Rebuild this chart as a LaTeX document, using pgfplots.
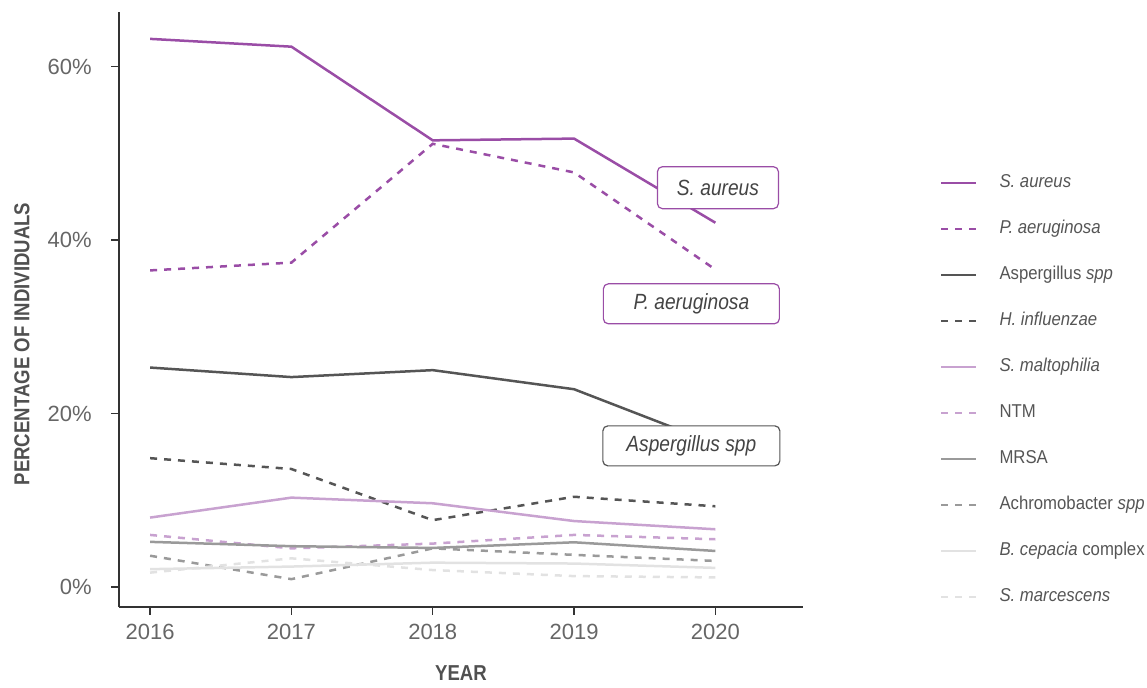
\documentclass[border=0pt]{standalone}
\usepackage{fontspec}
\setmainfont{Liberation Sans}
\newfontfamily\legfont[FakeStretch=0.9]{Liberation Sans}
\newfontfamily\labfont[FakeStretch=0.87]{Liberation Sans}
\newfontfamily\titlefont[FakeStretch=0.86]{Liberation Sans}
\usepackage{pgfplots}
\pgfplotsset{compat=1.18}
\definecolor{cPurple}{HTML}{9A4DA6}
\definecolor{cLPurple}{HTML}{C8A2D0}
\definecolor{cDark}{HTML}{555555}
\definecolor{cMid}{HTML}{9A9A9A}
\definecolor{cLight}{HTML}{E2E2E2}
\definecolor{cAxis}{HTML}{333333}
\definecolor{cTick}{HTML}{666666}
\definecolor{cText}{HTML}{444444}
\definecolor{cTitle}{HTML}{505050}
\definecolor{cLeg}{HTML}{555555}
\begin{document}
\begin{tikzpicture}
\useasboundingbox (-59.5pt,-40.5pt) rectangle (514pt,303.5pt);
\begin{axis}[
  at={(0pt,0pt)}, anchor=south west,
  scale only axis, width=342pt, height=297.5pt,
  xmin=2015.78, xmax=2020.62, ymin=-2.31, ymax=66.3,
  axis lines=left, axis line style={-, draw=cAxis, line width=0.7pt},
  xtick={2016,2017,2018,2019,2020}, ytick={0,20,40,60},
  tick align=outside, major tick length=4pt,
  tick style={draw=cAxis, line width=0.7pt},
  /pgf/number format/assume math mode=true,
  /pgf/number format/1000 sep={},
  yticklabel={\pgfmathprintnumber{\tick}\%},
  yticklabel style={font=\fontsize{11}{13}\selectfont, text=cTick, inner sep=0pt},
  xticklabel style={font=\fontsize{11}{13}\selectfont, text=cTick, inner sep=0pt},
  yticklabel shift=9.5pt,
  xticklabel shift=4.5pt,
  xlabel={YEAR},
  ylabel={PERCENTAGE OF INDIVIDUALS},
  xlabel style={at={(axis description cs:0.5,-0.1109)}, anchor=center, font=\titlefont\bfseries\fontsize{10.8}{12}\selectfont, text=cTitle},
  ylabel style={at={(axis description cs:-0.1418,0.442)}, anchor=center, font=\titlefont\bfseries\fontsize{10.8}{12}\selectfont, text=cTitle},
  legend cell align=left,
  legend image code/.code={\draw[#1] (0pt,0pt) -- (17.5pt,0pt);},
  legend style={at={(axis description cs:1.2003,0.7284)}, anchor=north west,
    draw=none, fill=none, inner sep=0pt, outer sep=0pt,
    row sep=13.5pt, column sep=11pt,
    nodes={inner sep=0pt, text height=7pt, text depth=2.5pt},
    font=\legfont\fontsize{9.3}{11}\selectfont, text=cLeg},
  every axis plot/.append style={line width=1.25pt},
  clip=false,
]
% S. aureus
\addplot[cPurple, solid] coordinates {(2016,63.2) (2017,62.3) (2018,51.5) (2019,51.7) (2020,42.0)};
\addlegendentry{\itshape S. aureus}
% P. aeruginosa
\addplot[cPurple, dash pattern=on 3.5pt off 3.5pt] coordinates {(2016,36.5) (2017,37.4) (2018,51.1) (2019,47.8) (2020,36.6)};
\addlegendentry{\itshape P. aeruginosa}
% Aspergillus spp
\addplot[cDark, solid] coordinates {(2016,25.3) (2017,24.2) (2018,25.0) (2019,22.8) (2020,16.5)};
\addlegendentry{Aspergillus \textit{spp}}
% H. influenzae
\addplot[cDark, dash pattern=on 3.5pt off 3.5pt] coordinates {(2016,14.85) (2017,13.6) (2018,7.7) (2019,10.4) (2020,9.3)};
\addlegendentry{\itshape H. influenzae}
% S. maltophilia
\addplot[cLPurple, solid] coordinates {(2016,8.0) (2017,10.3) (2018,9.65) (2019,7.6) (2020,6.65)};
\addlegendentry{\itshape S. maltophilia}
% NTM
\addplot[cLPurple, dash pattern=on 3.5pt off 3.5pt] coordinates {(2016,6.0) (2017,4.45) (2018,5.0) (2019,6.0) (2020,5.5)};
\addlegendentry{NTM}
% MRSA
\addplot[cMid, solid] coordinates {(2016,5.2) (2017,4.7) (2018,4.5) (2019,5.15) (2020,4.15)};
\addlegendentry{MRSA}
% Achromobacter spp
\addplot[cMid, dash pattern=on 3.5pt off 3.5pt] coordinates {(2016,3.6) (2017,0.9) (2018,4.45) (2019,3.7) (2020,3.0)};
\addlegendentry{Achromobacter \textit{spp}}
% B. cepacia complex
\addplot[cLight, solid] coordinates {(2016,2.05) (2017,2.35) (2018,2.8) (2019,2.7) (2020,2.2)};
\addlegendentry{\textit{B. cepacia} complex}
% S. marcescens
\addplot[cLight, dash pattern=on 3.5pt off 3.5pt] coordinates {(2016,1.65) (2017,3.3) (2018,1.95) (2019,1.25) (2020,1.1)};
\addlegendentry{\itshape S. marcescens}

\node[draw=cPurple, fill=white, rounded corners=2.5pt, line width=0.6pt, minimum width=60.5pt, minimum height=21pt, inner sep=0pt, font=\labfont\itshape\fontsize{11}{13}\selectfont, text=cText] at (axis cs:2020.018,46.04) {S. aureus};
\node[draw=cPurple, fill=white, rounded corners=2.5pt, line width=0.6pt, minimum width=88pt, minimum height=20pt, inner sep=0pt, font=\labfont\itshape\fontsize{11}{13}\selectfont, text=cText] at (axis cs:2019.83,32.65) {P. aeruginosa};
\node[draw=cDark, fill=white, rounded corners=2.5pt, line width=0.6pt, minimum width=88.5pt, minimum height=20pt, inner sep=0pt, font=\labfont\itshape\fontsize{11}{13}\selectfont, text=cText] at (axis cs:2019.83,16.27) {Aspergillus spp};
\end{axis}
\end{tikzpicture}
\end{document}
